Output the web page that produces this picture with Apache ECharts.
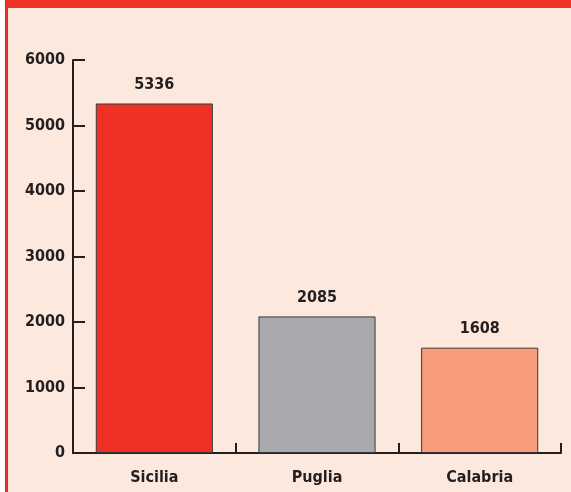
<!DOCTYPE html>
<html>
<head>
<meta charset="utf-8">
<script src="https://cdn.jsdelivr.net/npm/echarts@6/dist/echarts.min.js"></script>
<style>
  html, body {margin: 0; padding: 0; background: #fff;}
  #frame {
    position: absolute; left: 5px; top: 0; width: 563px; height: 484px;
    background: #fde8dd; border-top: 8px solid #ef3326; border-left: 3px solid #ee2a24;
  }
  #main {position: absolute; left: 0; top: 0; width: 571px; height: 492px;}
</style>
</head>
<body>
<div id="frame"></div>
<div id="main"></div>
<script>
// dati
const regioni = ['Sicilia', 'Puglia', 'Calabria']
const valori = [5336, 2085, 1608]
const colori = ['#ee3124', '#a7a9ac', '#f79b7c']
const yTicks = [0, 1000, 2000, 3000, 4000, 5000, 6000]

const font = "'DejaVu Sans Condensed', 'Liberation Sans Narrow', sans-serif"
const ink = '#231f20'
const fs = 16

const chart = echarts.init(document.getElementById('main'))

const option = {
  backgroundColor: 'transparent',
  animation: false,
  grid: {left: 73, right: 10, top: 60, bottom: 39, containLabel: false},
  xAxis: {
    type: 'category',
    data: regioni,
    axisLine: {lineStyle: {color: ink, width: 2}},
    axisTick: {show: true, inside: true, length: 10, alignWithLabel: false, lineStyle: {color: ink, width: 2}},
    axisLabel: {color: ink, fontFamily: font, fontSize: fs, fontWeight: 'bold', margin: 17},
  },
  yAxis: {
    type: 'value',
    min: yTicks[0],
    max: yTicks[yTicks.length - 1],
    interval: 1000,
    axisLine: {show: true, lineStyle: {color: ink, width: 2}},
    axisTick: {show: true, inside: true, length: 12, lineStyle: {color: ink, width: 2}},
    axisLabel: {color: ink, fontFamily: font, fontSize: fs, fontWeight: 'bold', margin: 8, formatter: v => String(v)},
    splitLine: {show: false},
  },
  series: [
    {
      type: 'bar',
      barWidth: '72%',
      data: valori.map((v, i) => ({
        value: v,
        itemStyle: {color: colori[i], borderColor: '#3a3a3a', borderWidth: 1},
      })),
      label: {
        show: true,
        position: 'top',
        distance: 11,
        color: ink,
        fontFamily: font,
        fontSize: fs,
        fontWeight: 'bold',
      },
    },
  ],
}

chart.setOption(option)
</script>
</body>
</html>
